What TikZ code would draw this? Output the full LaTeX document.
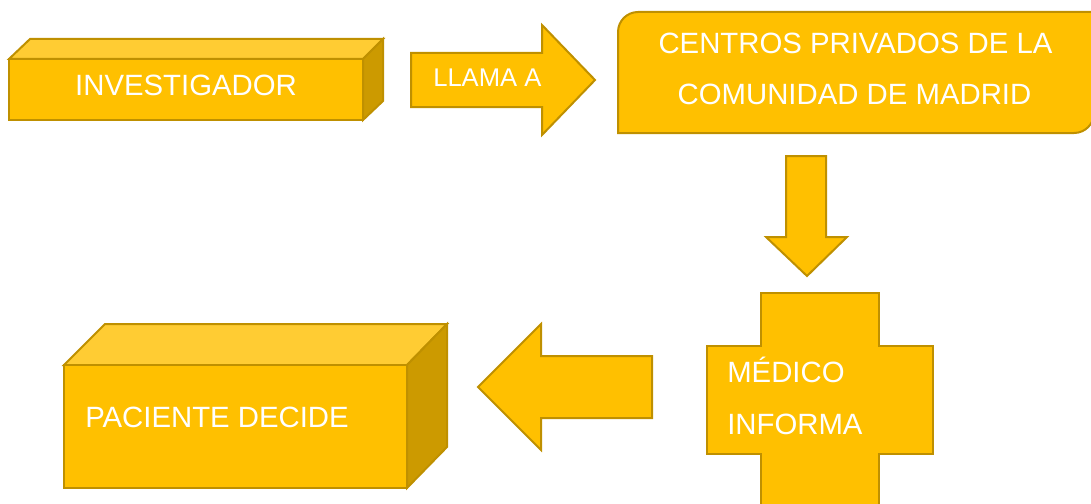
\documentclass[tikz,border=0pt]{standalone}
\usepackage{fontspec}
\setmainfont{Liberation Sans}
\begin{document}
\definecolor{gold}{HTML}{FFC000}
\definecolor{goldtop}{HTML}{FFCC33}
\definecolor{goldside}{HTML}{CC9A00}
\definecolor{goldline}{HTML}{BF9000}
\tikzset{
  shapebox/.style={fill=gold, draw=goldline, line width=1.5pt, line join=miter},
  topface/.style={fill=goldtop, draw=goldline, line width=1.5pt},
  sideface/.style={fill=goldside, draw=goldline, line width=1.5pt},
  txt/.style={text=white, font=\fontsize{22}{26}\selectfont, inner sep=0pt},
  smalltxt/.style={text=white, font=\fontsize{19.2}{22}\selectfont, inner sep=0pt}
}
\begin{tikzpicture}[x=0.75pt,y=-0.75pt]
\useasboundingbox (0,0) rectangle (1091,503);
\clip (0,0) rectangle (1091,503);
% INVESTIGADOR box
\draw[topface] (9,59) -- (30,39) -- (383,39) -- (363,59) -- cycle;
\draw[sideface] (363,59) -- (383,39) -- (383,101) -- (363,120) -- cycle;
\draw[shapebox] (9,59) rectangle (363,120);
\node[txt, anchor=base] (inv) at (186,95.5) {INVESTIGADOR};
% LLAMA A arrow
\draw[shapebox] (411,53) -- (542,53) -- (542,25) -- (595,80) -- (542,135) -- (542,107) -- (411,107) -- cycle;
\node[smalltxt, anchor=base west] (llama) at (433,86.5) {LLAMA A};
% CENTROS box
\draw[shapebox] (618,133) -- (618,32) arc[start angle=180, end angle=270, radius=20] -- (1094,12) -- (1094,113) arc[start angle=0, end angle=90, radius=20] -- cycle;
\node[txt, anchor=base] (c1) at (855.5,54) {CENTROS PRIVADOS DE LA};
\node[txt, anchor=base] (c2) at (854.5,104) {COMUNIDAD DE MADRID};
% down arrow
\draw[shapebox] (786,156) -- (826,156) -- (826,237) -- (847,237) -- (807,276) -- (766,237) -- (786,237) -- cycle;
% cross
\draw[shapebox] (761,293) -- (879,293) -- (879,346) -- (933,346) -- (933,454) -- (879,454) -- (879,520) -- (761,520) -- (761,454) -- (707,454) -- (707,346) -- (761,346) -- cycle;
\node[txt, anchor=base west] (med1) at (727,382) {MÉDICO};
\node[txt, anchor=base west] (med2) at (727,434) {INFORMA};
% left arrow
\draw[shapebox] (652,356) -- (541,356) -- (541,324) -- (478,387) -- (541,450) -- (541,418) -- (652,418) -- cycle;
% PACIENTE box
\draw[topface] (64,365) -- (105,324) -- (447,324) -- (407,365) -- cycle;
\draw[sideface] (407,365) -- (447,324) -- (447,447) -- (407,488) -- cycle;
\draw[shapebox] (64,365) rectangle (407,488);
\node[txt, anchor=base west] (pac) at (85,427) {PACIENTE DECIDE};
\end{tikzpicture}
\end{document}
